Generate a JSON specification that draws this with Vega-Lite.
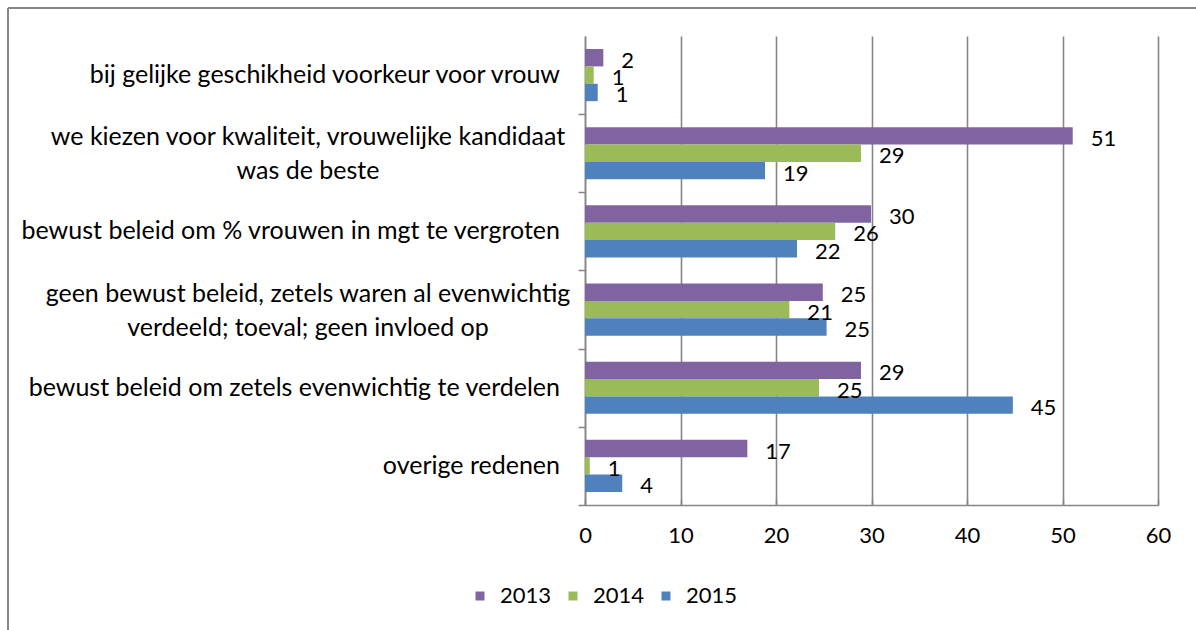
{
  "$schema": "https://vega.github.io/schema/vega-lite/v6.json",
  "width": 1188,
  "height": 622,
  "autosize": {"type": "none"},
  "padding": {"left": 8, "top": 8, "right": 0, "bottom": 0},
  "background": "white",
  "config": {
    "view": {"stroke": "#868686", "strokeWidth": 2, "strokeDash": [1188, 1810, 622, 0]},
    "font": "Lato",
    "axis": {"labelFont": "Lato", "labelFontSize": 22, "labelColor": "black"},
    "legend": {"labelFont": "Lato", "labelFontSize": 22, "labelColor": "black"}
  },
  "data": {
    "values": [
      {"reason": "bij gelijke geschikheid voorkeur voor vrouw", "year": "2013", "value": 1.92},
      {"reason": "bij gelijke geschikheid voorkeur voor vrouw", "year": "2014", "value": 0.91},
      {"reason": "bij gelijke geschikheid voorkeur voor vrouw", "year": "2015", "value": 1.33},
      {"reason": "we kiezen voor kwaliteit, vrouwelijke kandidaat\nwas de beste", "year": "2013", "value": 51.07},
      {"reason": "we kiezen voor kwaliteit, vrouwelijke kandidaat\nwas de beste", "year": "2014", "value": 28.9},
      {"reason": "we kiezen voor kwaliteit, vrouwelijke kandidaat\nwas de beste", "year": "2015", "value": 18.85},
      {"reason": "bewust beleid om % vrouwen in mgt te vergroten", "year": "2013", "value": 29.95},
      {"reason": "bewust beleid om % vrouwen in mgt te vergroten", "year": "2014", "value": 26.2},
      {"reason": "bewust beleid om % vrouwen in mgt te vergroten", "year": "2015", "value": 22.2},
      {"reason": "geen bewust beleid, zetels waren al evenwichtig\nverdeeld; toeval; geen invloed op", "year": "2013", "value": 24.9},
      {"reason": "geen bewust beleid, zetels waren al evenwichtig\nverdeeld; toeval; geen invloed op", "year": "2014", "value": 21.4},
      {"reason": "geen bewust beleid, zetels waren al evenwichtig\nverdeeld; toeval; geen invloed op", "year": "2015", "value": 25.3},
      {"reason": "bewust beleid om zetels evenwichtig te verdelen", "year": "2013", "value": 28.9},
      {"reason": "bewust beleid om zetels evenwichtig te verdelen", "year": "2014", "value": 24.5},
      {"reason": "bewust beleid om zetels evenwichtig te verdelen", "year": "2015", "value": 44.8},
      {"reason": "overige redenen", "year": "2013", "value": 17.0},
      {"reason": "overige redenen", "year": "2014", "value": 0.5},
      {"reason": "overige redenen", "year": "2015", "value": 3.9}
    ]
  },
  "encoding": {
    "y": {
      "field": "reason",
      "type": "nominal",
      "sort": null,
      "scale": {"range": [28, 497], "paddingInner": 0.333, "paddingOuter": 0.1667},
      "axis": {
        "orient": "left",
        "offset": -577,
        "title": null,
        "grid": false,
        "labels": false,
        "bandPosition": 1,
        "tickOffset": 13,
        "tickSize": 7,
        "tickColor": "#868686",
        "tickWidth": 1.5,
        "domainColor": "#868686",
        "domainWidth": 1.5
      }
    },
    "x": {
      "field": "value",
      "type": "quantitative",
      "scale": {"domain": [0, 60], "range": [577, 1150], "nice": false, "zero": true},
      "axis": {
        "orient": "top",
        "offset": -497,
        "title": null,
        "values": [0, 10, 20, 30, 40, 50, 60],
        "grid": true,
        "gridColor": "#868686",
        "gridWidth": 1.6,
        "domainColor": "#868686",
        "domainWidth": 1.6,
        "tickColor": "#868686",
        "tickWidth": 1.5,
        "tickSize": 6,
        "labelPadding": -26,
        "labelBaseline": "top",
        "labelFlush": false,
        "labelFontSize": 22
      }
    }
  },
  "layer": [
    {
      "mark": {"type": "bar"},
      "encoding": {
        "yOffset": {"field": "year", "type": "nominal", "scale": {"paddingInner": 0, "paddingOuter": 0}},
        "color": {
          "field": "year",
          "type": "nominal",
          "scale": {"domain": ["2013", "2014", "2015"], "range": ["#8064A2", "#9BBB59", "#4F81BD"]},
          "legend": {
            "title": null,
            "orient": "none",
            "legendX": 461,
            "legendY": 577,
            "direction": "horizontal",
            "symbolType": "square",
            "symbolSize": 81,
            "symbolStrokeWidth": 0,
            "symbolOpacity": 1,
            "labelOffset": 9,
            "columnPadding": 10,
            "padding": 0
          }
        }
      }
    },
    {
      "mark": {"type": "text", "align": "left", "baseline": "middle", "dx": 18, "dy": 3, "fontSize": 22, "font": "Lato", "color": "black"},
      "encoding": {
        "yOffset": {"field": "year", "type": "nominal"},
        "text": {"field": "value", "type": "quantitative", "format": ".0f"}
      }
    },
    {
      "transform": [{"filter": "datum.year == '2013'"}],
      "mark": {
        "type": "text",
        "baseline": "middle",
        "lineBreak": "\n",
        "lineHeight": 34,
        "fontSize": 25,
        "font": "Lato",
        "color": "black",
        "align": {"expr": "indexof(datum.reason, '\\n') >= 0 ? 'center' : 'right'"},
        "dx": {"expr": "indexof(datum.reason, '\\n') >= 0 ? -277 : -25"},
        "dy": {"expr": "indexof(datum.reason, '\\n') >= 0 ? -16 : 0"}
      },
      "encoding": {
        "x": {"datum": 0},
        "text": {"field": "reason", "type": "nominal"}
      }
    }
  ]
}
